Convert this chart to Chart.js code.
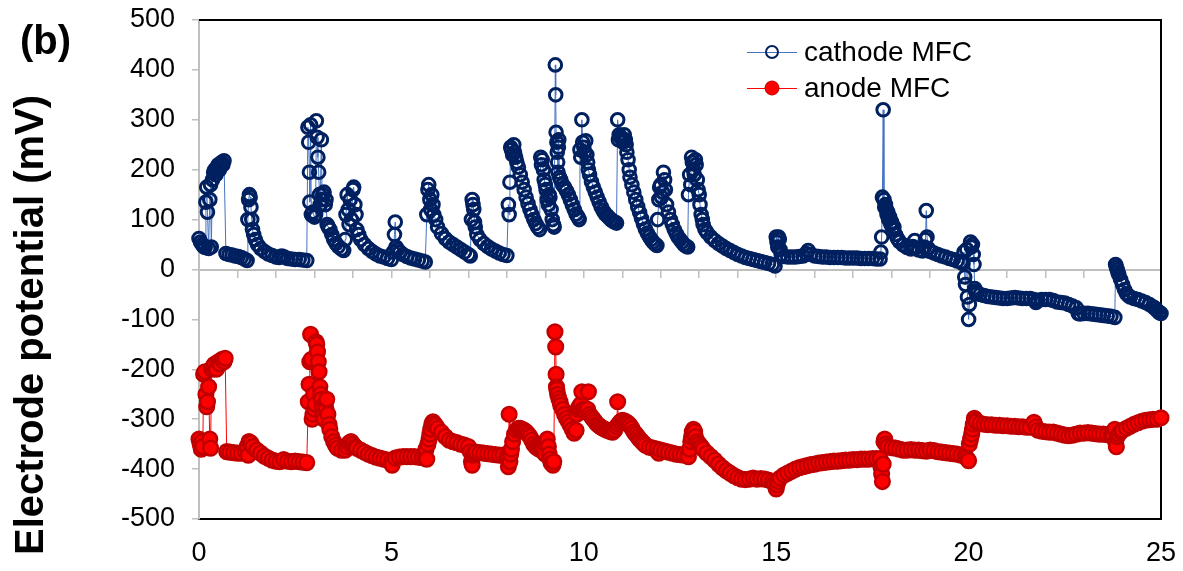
<!DOCTYPE html>
<html><head><meta charset="utf-8">
<script src="https://cdn.jsdelivr.net/npm/chart.js@4.4.1/dist/chart.umd.min.js"></script>
<style>html,body{margin:0;padding:0;background:#fff;}canvas{display:block;}</style>
</head><body>
<canvas id="c" width="1183" height="571"></canvas>
<script>
// Time (x) and electrode potential (mV) pairs
const cathodeMFC = [
[0.00,62],[0.04,55],[0.08,50],[0.12,46],[0.16,44],[0.18,135],[0.20,165],[0.22,115],[0.25,42],[0.28,140],[0.30,170],[0.32,45],[0.35,180],[0.38,195],[0.41,200],[0.44,190],[0.47,205],[0.50,210],[0.53,200],[0.56,212],[0.59,215],[0.62,210],[0.65,218],
[0.70,32],[0.78,30],[0.86,29],[0.94,27],[1.02,26],[1.10,24],[1.18,21],[1.25,18],
[1.27,100],[1.29,140],[1.31,150],[1.33,145],[1.35,125],[1.37,100],[1.39,80],[1.42,70],[1.46,60],[1.52,50],[1.60,42],[1.70,36],[1.80,31],[1.90,28],[2.00,25],[2.08,24],[2.15,27],[2.22,25],[2.30,22],[2.40,21],[2.50,20],[2.60,20],[2.70,19],[2.80,18],
[2.83,285],[2.85,255],[2.87,195],[2.88,135],[2.90,290],[2.92,110],[2.96,115],[3.00,105],[3.03,110],[3.05,298],[3.07,265],[3.09,225],[3.11,195],[3.13,150],[3.15,130],[3.18,260],[3.20,140],[3.22,150],[3.25,155],[3.28,130],[3.30,140],[3.33,90],[3.36,85],[3.40,80],[3.45,70],[3.50,60],[3.56,52],[3.62,46],[3.70,41],[3.76,38],
[3.80,60],[3.82,110],[3.85,150],[3.88,120],[3.90,90],[3.93,140],[3.96,100],[4.00,160],[4.02,165],[4.05,130],[4.08,110],[4.10,80],[4.15,70],[4.20,60],[4.30,50],[4.40,42],[4.50,36],[4.60,31],[4.70,27],[4.80,25],[4.90,22],[5.00,20],
[5.05,35],[5.08,70],[5.10,95],[5.12,45],[5.16,40],[5.22,35],[5.30,30],[5.40,26],[5.50,23],[5.60,21],[5.70,19],[5.80,17],[5.88,15],
[5.92,110],[5.95,160],[5.97,170],[6.00,140],[6.02,120],[6.05,150],[6.08,130],[6.10,110],[6.15,100],[6.20,85],[6.30,72],[6.40,62],[6.50,55],[6.60,50],[6.70,45],[6.80,40],[6.90,35],[7.00,30],[7.05,27],
[7.08,100],[7.10,140],[7.12,130],[7.14,120],[7.16,95],[7.18,85],[7.22,70],[7.30,60],[7.40,52],[7.50,46],[7.60,41],[7.70,37],[7.80,33],[7.90,30],[8.00,28],
[8.04,130],[8.06,110],[8.08,175],[8.10,245],[8.12,240],[8.15,230],[8.18,250],[8.20,235],[8.23,225],[8.26,215],[8.30,205],[8.35,190],[8.40,175],[8.45,160],[8.50,145],[8.55,132],[8.60,120],[8.65,110],[8.70,100],[8.75,92],[8.80,85],[8.85,80],
[8.88,225],[8.90,210],[8.92,220],[8.95,200],[8.97,180],[9.00,170],[9.02,160],[9.05,140],[9.08,130],[9.10,150],[9.12,145],[9.15,120],[9.18,100],[9.21,90],[9.23,85],
[9.26,410],[9.27,350],[9.28,275],[9.30,255],[9.31,235],[9.32,215],[9.33,195],[9.34,245],[9.35,260],[9.37,185],[9.40,180],[9.45,170],[9.50,165],[9.55,158],[9.60,150],[9.65,140],[9.70,130],[9.75,120],[9.80,111],[9.85,105],[9.88,100],
[9.90,240],[9.92,225],[9.95,300],[9.97,255],[10.00,245],[10.02,235],[10.05,258],[10.08,230],[10.10,215],[10.12,200],[10.15,190],[10.20,176],[10.25,165],[10.30,155],[10.35,145],[10.40,135],[10.45,126],[10.50,118],[10.55,112],[10.60,108],[10.65,104],[10.70,100],[10.75,97],[10.80,95],[10.85,93],
[10.88,300],[10.90,260],[10.92,270],[10.95,265],[11.00,262],[11.02,255],[11.05,270],[11.08,260],[11.10,250],[11.12,235],[11.15,220],[11.18,200],[11.20,185],[11.25,170],[11.30,155],[11.35,140],[11.40,126],[11.45,114],[11.50,102],[11.55,91],[11.60,81],[11.65,73],[11.70,66],[11.75,60],[11.80,55],[11.85,51],[11.90,48],
[11.92,100],[11.95,140],[11.97,165],[12.00,170],[12.02,145],[12.05,155],[12.07,195],[12.10,180],[12.12,160],[12.15,130],[12.20,115],[12.25,100],[12.30,90],[12.35,80],[12.40,72],[12.45,65],[12.50,60],[12.55,55],[12.60,50],[12.65,47],[12.70,45],
[12.72,150],[12.75,190],[12.78,170],[12.80,225],[12.82,215],[12.85,200],[12.87,190],[12.90,220],[12.92,210],[12.95,180],[12.97,160],[13.00,150],[13.02,130],[13.05,110],[13.08,100],[13.10,90],[13.15,80],[13.20,74],[13.30,65],[13.40,58],[13.50,52],[13.60,47],[13.70,42],[13.80,38],[13.90,34],[14.00,30],[14.10,27],[14.20,24],[14.30,22],[14.40,20],[14.50,18],[14.60,16],[14.70,14],[14.80,12],[14.90,10],[14.97,7],
[15.00,65],[15.02,55],[15.04,45],[15.06,65],[15.08,60],[15.10,40],[15.13,30],[15.20,26],[15.30,25],[15.40,25],[15.50,25],[15.60,26],[15.70,27],[15.78,32],[15.83,38],[15.90,30],[16.00,27],[16.10,26],[16.20,25],[16.30,25],[16.40,24],[16.50,24],[16.60,24],[16.70,24],[16.80,23],[16.90,23],[17.00,23],[17.10,23],[17.20,22],[17.30,22],[17.40,22],[17.50,22],[17.60,21],[17.70,21],
[17.72,35],[17.74,65],[17.76,145],[17.78,320],[17.80,140],[17.82,125],[17.84,130],[17.86,120],[17.88,110],[17.90,115],[17.92,100],[17.95,105],[17.98,90],[18.00,95],[18.03,80],[18.06,85],[18.10,70],[18.15,62],[18.20,56],[18.30,49],[18.40,44],[18.50,41],[18.55,46],[18.60,58],[18.62,43],[18.70,39],[18.80,37],[18.85,45],[18.88,60],[18.90,118],[18.92,65],[18.95,42],[19.00,36],[19.10,33],[19.20,30],[19.30,27],[19.40,25],[19.50,22],[19.60,20],[19.70,17],[19.80,15],[19.85,12],
[19.88,35],[19.90,-15],[19.92,-30],[19.95,40],[19.97,-55],[20.00,-100],[20.02,-70],[20.05,55],[20.07,45],[20.10,50],[20.12,30],[20.14,10],[20.16,-38],[20.18,-44],[20.22,-48],
[20.30,-50],[20.40,-52],[20.50,-54],[20.60,-55],[20.70,-56],[20.80,-57],[20.90,-58],[21.00,-58],[21.10,-57],[21.20,-56],[21.30,-57],[21.40,-58],[21.50,-58],[21.60,-58],[21.70,-60],[21.75,-66],[21.80,-62],[21.90,-60],[22.00,-60],[22.10,-60],[22.20,-62],[22.30,-65],[22.40,-66],[22.50,-67],[22.60,-70],[22.70,-73],[22.80,-77],[22.85,-88],[22.90,-89],[23.00,-88],[23.10,-88],[23.20,-89],[23.30,-90],[23.40,-91],[23.50,-92],[23.60,-93],[23.70,-94],[23.80,-96],
[23.82,10],[23.84,5],[23.86,0],[23.88,-5],[23.90,-10],[23.95,-20],[24.00,-30],[24.05,-40],[24.10,-48],[24.15,-52],[24.20,-55],[24.30,-58],[24.40,-60],[24.50,-63],[24.60,-66],[24.70,-70],[24.80,-75],[24.85,-78],[24.90,-82],[24.95,-86],[25.00,-88]
];

const anodeMFC = [
[0.00,-340],[0.03,-350],[0.06,-360],[0.08,-345],[0.10,-355],[0.12,-210],[0.15,-205],[0.18,-250],[0.20,-275],[0.22,-265],[0.25,-235],[0.28,-340],[0.30,-358],[0.33,-200],[0.36,-195],[0.40,-190],[0.45,-200],[0.50,-185],[0.55,-190],[0.60,-180],[0.65,-185],[0.68,-178],
[0.72,-365],[0.80,-366],[0.90,-367],[1.00,-368],[1.10,-368],[1.20,-365],[1.25,-355],[1.28,-372],[1.30,-345],[1.35,-348],[1.40,-355],[1.50,-362],[1.60,-368],[1.70,-374],[1.80,-378],[1.90,-382],[2.00,-384],[2.10,-385],[2.20,-381],[2.30,-384],[2.40,-385],[2.50,-384],[2.60,-385],[2.70,-386],[2.80,-387],
[2.84,-265],[2.86,-230],[2.88,-185],[2.90,-130],[2.92,-180],[2.94,-300],[2.96,-290],[2.98,-250],[3.00,-280],[3.02,-270],[3.04,-145],[3.06,-150],[3.08,-165],[3.10,-185],[3.12,-205],[3.14,-235],[3.16,-250],[3.18,-260],[3.20,-275],[3.22,-290],[3.25,-300],[3.28,-270],[3.30,-280],[3.32,-260],[3.35,-290],[3.38,-310],[3.40,-320],[3.45,-335],[3.50,-345],[3.55,-352],[3.60,-358],[3.70,-362],
[3.80,-362],[3.85,-355],[3.90,-348],[3.95,-345],[4.00,-350],[4.05,-355],[4.10,-358],[4.20,-362],[4.30,-366],[4.40,-370],[4.50,-373],[4.60,-376],[4.70,-378],[4.80,-380],[4.90,-382],[5.00,-385],[5.02,-392],
[5.10,-378],[5.20,-376],[5.30,-375],[5.40,-375],[5.50,-375],[5.60,-375],[5.70,-376],[5.80,-377],[5.88,-378],
[5.90,-360],[5.92,-380],[5.95,-350],[5.98,-340],[6.00,-330],[6.02,-320],[6.05,-310],[6.08,-305],[6.10,-308],[6.15,-312],[6.20,-318],[6.30,-326],[6.40,-335],[6.50,-342],[6.60,-345],[6.70,-347],[6.80,-350],[6.90,-352],[7.00,-355],
[7.05,-365],[7.08,-385],[7.10,-392],[7.12,-372],[7.15,-368],[7.20,-366],[7.30,-367],[7.40,-368],[7.50,-369],[7.60,-370],[7.70,-371],[7.80,-372],[7.90,-372],[8.00,-375],
[8.02,-380],[8.04,-395],[8.06,-290],[8.08,-385],[8.10,-370],[8.12,-360],[8.15,-345],[8.20,-330],[8.25,-322],[8.30,-318],[8.35,-318],[8.40,-320],[8.45,-322],[8.50,-325],[8.55,-330],[8.60,-335],[8.65,-342],[8.70,-350],[8.75,-355],[8.80,-358],[8.85,-360],[8.90,-362],[8.95,-365],[9.00,-370],[9.05,-340],[9.08,-355],[9.10,-370],[9.12,-380],[9.15,-388],[9.20,-392],[9.22,-385],
[9.25,-125],[9.27,-155],[9.28,-210],[9.29,-235],[9.30,-240],[9.32,-250],[9.35,-258],[9.38,-265],[9.40,-272],[9.45,-280],[9.50,-290],[9.55,-298],[9.60,-305],[9.65,-312],[9.70,-320],[9.75,-328],[9.80,-322],
[9.82,-290],[9.85,-280],[9.88,-275],[9.92,-270],[9.95,-245],[9.98,-280],[10.00,-282],[10.05,-285],[10.10,-280],[10.12,-245],[10.15,-290],[10.20,-295],[10.25,-300],[10.30,-305],[10.35,-310],[10.40,-313],[10.45,-316],[10.50,-318],[10.55,-320],[10.60,-322],[10.65,-323],[10.70,-325],[10.75,-326],[10.80,-322],[10.85,-315],
[10.88,-265],[10.90,-310],[10.95,-305],[11.00,-302],[11.05,-303],[11.10,-305],[11.15,-308],[11.20,-312],[11.25,-318],[11.30,-325],[11.35,-330],[11.40,-335],[11.45,-340],[11.50,-344],[11.55,-348],[11.60,-352],[11.70,-356],[11.80,-358],[11.90,-360],[11.95,-368],[12.00,-362],[12.10,-364],[12.20,-366],[12.30,-368],[12.40,-370],[12.50,-371],[12.60,-372],[12.70,-373],
[12.72,-375],[12.75,-360],[12.78,-345],[12.80,-335],[12.82,-325],[12.85,-320],[12.88,-325],[12.90,-335],[12.95,-345],[13.00,-350],[13.05,-355],[13.10,-360],[13.20,-368],[13.30,-375],[13.40,-382],[13.50,-390],[13.60,-397],[13.70,-403],[13.80,-408],[13.90,-413],[14.00,-417],[14.10,-420],[14.20,-421],[14.30,-420],[14.40,-418],[14.50,-420],[14.60,-419],[14.70,-420],[14.80,-422],[14.90,-425],[14.95,-430],[15.00,-440],[15.02,-432],[15.05,-425],[15.10,-418],[15.20,-412],[15.30,-408],[15.40,-404],[15.50,-400],[15.60,-397],[15.70,-395],[15.80,-393],[15.90,-391],[16.00,-390],[16.10,-388],[16.20,-387],[16.30,-386],[16.40,-385],[16.50,-384],[16.60,-384],[16.70,-383],[16.80,-382],[16.90,-382],[17.00,-381],[17.10,-381],[17.20,-380],[17.30,-380],[17.40,-380],[17.50,-379],[17.60,-379],[17.70,-379],
[17.72,-395],[17.74,-410],[17.76,-425],[17.78,-390],[17.80,-345],[17.82,-340],[17.85,-350],[17.90,-355],[18.00,-357],[18.10,-358],[18.20,-360],[18.30,-362],[18.40,-362],[18.50,-361],[18.60,-362],[18.70,-362],[18.80,-363],[18.90,-364],[19.00,-362],[19.10,-363],[19.20,-365],[19.30,-366],[19.40,-367],[19.50,-368],[19.60,-369],[19.70,-370],[19.80,-372],[19.90,-374],[19.95,-378],[20.00,-383],
[20.02,-350],[20.05,-340],[20.08,-330],[20.10,-320],[20.12,-310],[20.15,-298],[20.18,-302],[20.20,-305],[20.30,-308],[20.40,-310],[20.50,-311],[20.60,-311],[20.70,-312],[20.80,-312],[20.90,-313],[21.00,-313],[21.10,-314],[21.20,-314],[21.30,-315],[21.40,-315],[21.50,-316],[21.60,-316],[21.70,-306],[21.75,-315],[21.80,-322],[21.90,-324],[22.00,-325],[22.10,-326],[22.20,-326],[22.30,-328],[22.40,-330],[22.50,-332],[22.60,-333],[22.70,-332],[22.80,-330],[22.90,-328],[23.00,-328],[23.10,-327],[23.20,-328],[23.30,-329],[23.40,-330],[23.50,-330],[23.60,-331],[23.70,-332],[23.75,-333],
[23.80,-320],[23.82,-345],[23.84,-355],[23.86,-335],[23.90,-330],[23.95,-325],[24.00,-322],[24.10,-318],[24.20,-314],[24.30,-310],[24.40,-307],[24.50,-304],[24.60,-302],[24.70,-301],[24.80,-300],[24.90,-300],[25.00,-297]
];

const seriesNames = ['cathode MFC', 'anode MFC'];
const yTitle = 'Electrode potential (mV)';
const panelLabel = '(b)';

const FONT = "'Liberation Sans', Arial, sans-serif";
Chart.defaults.font.family = FONT;
Chart.defaults.color = '#000';

const toXY = arr => arr.map(p => ({x: p[0], y: p[1]}));

const decor = {
  id: 'decor',
  beforeDatasetsDraw(chart) {
    const {ctx, chartArea: a} = chart;
    ctx.save();
    ctx.strokeStyle = '#000';
    ctx.lineWidth = 2;
    ctx.beginPath();
    ctx.moveTo(a.left, a.top);
    ctx.lineTo(a.right, a.top);
    ctx.lineTo(a.right, a.bottom + 1);
    ctx.stroke();
    ctx.restore();
  },
  afterDraw(chart) {
    const {ctx} = chart;
    ctx.save();
    ctx.fillStyle = '#000';
    ctx.font = "bold 40px " + FONT;
    ctx.textAlign = 'left';
    ctx.textBaseline = 'alphabetic';
    ctx.fillText(panelLabel, 20, 54);
    ctx.save();
    ctx.translate(43, 325);
    ctx.rotate(-Math.PI / 2);
    ctx.textAlign = 'center';
    ctx.fillText(yTitle, 0, 0);
    ctx.restore();
    ctx.font = "28px " + FONT;
    const rows = [
      {y: 52, base: 61, line: '#4472C4', stroke: '#002060', fill: null, r: 6, lw: 2},
      {y: 88, base: 97, line: '#FF0000', stroke: '#C00000', fill: '#FF0000', r: 7, lw: 1}
    ];
    rows.forEach((r, i) => {
      ctx.strokeStyle = r.line;
      ctx.lineWidth = 1;
      ctx.beginPath();
      ctx.moveTo(747, r.y + 0.5);
      ctx.lineTo(797, r.y + 0.5);
      ctx.stroke();
      ctx.beginPath();
      ctx.arc(772, r.y, r.r, 0, Math.PI * 2);
      if (r.fill) { ctx.fillStyle = r.fill; ctx.fill(); }
      ctx.strokeStyle = r.stroke;
      ctx.lineWidth = r.lw;
      ctx.stroke();
      ctx.fillStyle = '#000';
      ctx.textAlign = 'left';
      ctx.fillText(seriesNames[i], 804, r.base);
    });
    ctx.restore();
  }
};

new Chart(document.getElementById('c'), {
  type: 'scatter',
  data: {
    datasets: [
      {
        label: seriesNames[0],
        data: toXY(cathodeMFC),
        showLine: true,
        borderColor: '#4472C4',
        borderWidth: 1,
        pointStyle: 'circle',
        pointRadius: 6.3,
        pointBorderWidth: 3,
        pointBorderColor: '#002060',
        pointBackgroundColor: 'rgba(255,255,255,0)',
        clip: false,
        xAxisID: 'x', yAxisID: 'y'
      },
      {
        label: seriesNames[1],
        data: toXY(anodeMFC),
        showLine: true,
        borderColor: '#FF0000',
        borderWidth: 1,
        pointStyle: 'circle',
        pointRadius: 7.3,
        pointBorderWidth: 2.5,
        pointBorderColor: '#C00000',
        pointBackgroundColor: '#FF0000',
        clip: false,
        xAxisID: 'x', yAxisID: 'y'
      }
    ]
  },
  options: {
    responsive: false,
    animation: false,
    events: [],
    layout: {padding: {left: 0, right: 22, top: 20, bottom: 0}},
    plugins: {legend: {display: false}, tooltip: {enabled: false}},
    scales: {
      x: {
        type: 'linear', position: 'bottom', min: 0, max: 25,
        ticks: {stepSize: 5, font: {size: 27}, padding: 18, color: '#000', maxRotation: 0},
        grid: {display: false, drawTicks: false},
        border: {display: true, color: '#000', width: 2},
        afterFit: s => { s.height = 52; s.paddingLeft = 0; s.paddingRight = 0; }
      },
      xZero: {
        type: 'linear', axis: 'x', position: {y: 0}, min: 0, max: 25,
        ticks: {stepSize: 1, display: false},
        grid: {display: true, drawOnChartArea: false, drawTicks: true, tickLength: 7, color: '#BFBFBF', lineWidth: 1.5},
        border: {display: true, color: '#BFBFBF', width: 2},
        afterFit: s => { s.paddingLeft = 0; s.paddingRight = 0; s.paddingTop = 0; s.paddingBottom = 0; }
      },
      y: {
        type: 'linear', position: 'left', min: -500, max: 500,
        ticks: {stepSize: 50, font: {size: 27}, padding: 17, color: '#000',
          callback: v => (Math.round(v) % 100 === 0 ? String(v) : '')},
        grid: {display: true, drawOnChartArea: false, drawTicks: true, tickLength: 7, color: '#BFBFBF', lineWidth: 1.5},
        border: {display: true, color: '#BFBFBF', width: 2},
        afterFit: s => { s.width = 199; s.paddingTop = 0; s.paddingBottom = 0; }
      }
    }
  },
  plugins: [decor]
});
</script>
</body></html>
